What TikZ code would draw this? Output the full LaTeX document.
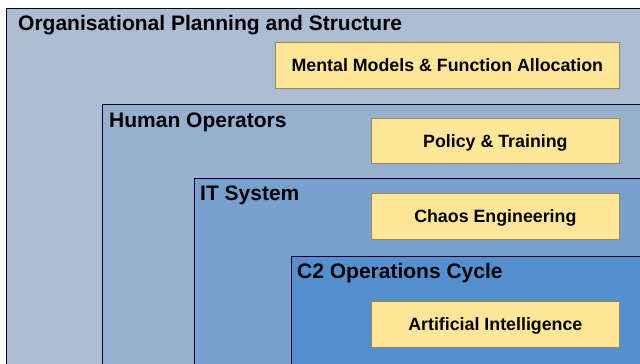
\documentclass[tikz,border=0pt]{standalone}
\usepackage{fontspec}
\setmainfont{Liberation Sans}
\begin{document}
\begin{tikzpicture}[x=1pt,y=-1pt,
  layer/.style={draw=black!85!blue, line width=0.9pt},
  title/.style={anchor=base west, inner sep=0pt, font=\bfseries\fontsize{21}{23}\selectfont},
  item/.style={draw=black!55!yellow!70!brown, line width=0.7pt, fill=itemY, anchor=north west, inner sep=0pt, text height=12.75pt, text depth=0pt, font=\bfseries\fontsize{17.8}{19}\selectfont}
]
\definecolor{lay1}{HTML}{ABBCD3}
\definecolor{lay2}{HTML}{98B0CF}
\definecolor{lay3}{HTML}{78A1CE}
\definecolor{lay4}{HTML}{548FCF}
\definecolor{itemY}{HTML}{FFE699}
\useasboundingbox (0,0) rectangle (640,364);
\begin{scope}
\clip (0,0) rectangle (640,364);
\draw[layer, fill=lay1] (6,8) rectangle (660,380);
\draw[layer, fill=lay2] (102,104) rectangle (660,380);
\draw[layer, fill=lay3] (194,178) rectangle (660,380);
\draw[layer, fill=lay4] (291,256) rectangle (660,380);
\end{scope}
\node[title] (t1) at (18,30) {Organisational Planning and Structure};
\node[title] (t2) at (109,127) {Human Operators};
\node[title] (t3) at (200,200) {IT System};
\node[title] (t4) at (297,278) {C2 Operations Cycle};
\node[item, minimum width=344pt, minimum height=46pt] (m1) at (275,42) {Mental Models \& Function Allocation};
\node[item, minimum width=248pt, minimum height=45pt] (m2) at (371,118) {Policy \& Training};
\node[item, minimum width=248pt, minimum height=46pt] (m3) at (371,193) {Chaos Engineering};
\node[item, minimum width=248pt, minimum height=46pt] (m4) at (371,301) {Artificial Intelligence};
\end{tikzpicture}
\end{document}
